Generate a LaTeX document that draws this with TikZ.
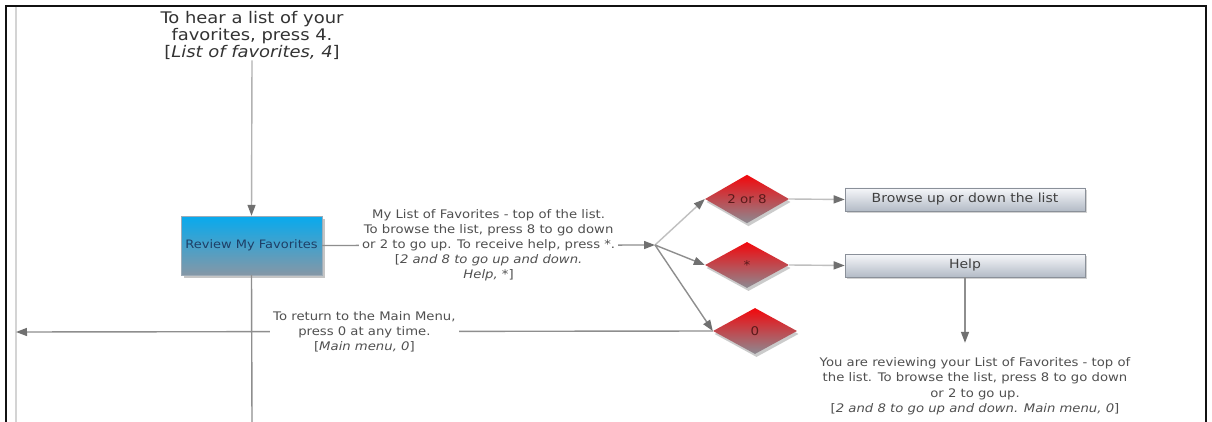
\documentclass[tikz,border=0pt]{standalone}
\usepackage{fontspec}
\setmainfont{DejaVu Sans}[FakeStretch=1.12]
\usetikzlibrary{shapes.geometric,arrows.meta,shadows}

\definecolor{frameline}{HTML}{111111}
\definecolor{railgray}{HTML}{D4D4D4}
\definecolor{conngray}{HTML}{8E8E8E}
\definecolor{tipgray}{HTML}{707070}
\definecolor{labelgray}{HTML}{505050}
\definecolor{boxtop}{HTML}{07AAEE}
\definecolor{boxbot}{HTML}{8597A6}
\definecolor{boxtext}{HTML}{1E3F66}
\definecolor{diatop}{HTML}{F2080C}
\definecolor{diabot}{HTML}{8C8A92}
\definecolor{diatext}{HTML}{5A1A1A}
\definecolor{acttop}{HTML}{F6F7FA}
\definecolor{actbot}{HTML}{B3BBC6}
\definecolor{actline}{HTML}{8A9099}

\tikzset{
  conn/.style={draw=conngray, line width=1.4pt,
    -{Triangle[length=11pt,width=8pt,fill=tipgray,color=tipgray]}},
  plainconn/.style={draw=conngray, line width=1.4pt},
  lbl/.style={fill=white, text=labelgray, font=\fontsize{11.8}{15}\selectfont,
    align=center, inner sep=3pt},
  note/.style={text=labelgray, font=\fontsize{11.8}{15.5}\selectfont,
    align=center, inner sep=2pt},
  prompt/.style={text=black!80, font=\fontsize{16}{17}\selectfont,
    align=center, inner sep=1pt},
  statebox/.style={rectangle, minimum width=141pt, minimum height=59pt,
    top color=boxtop, bottom color=boxbot, draw=boxbot!80,
    text=boxtext, font=\fontsize{11.6}{13}\selectfont,
    drop shadow={shadow xshift=3pt, shadow yshift=-3pt, fill=black!45}},
  choice/.style={diamond, inner sep=0pt, minimum width=84pt, minimum height=46pt,
    top color=diatop, bottom color=diabot, draw=none,
    text=diatext, font=\fontsize{12}{13}\selectfont,
    drop shadow={shadow xshift=1.5pt, shadow yshift=-3pt, fill=black!40}},
  action/.style={rectangle, minimum width=240pt, minimum height=23pt,
    top color=acttop, bottom color=actbot, draw=actline, line width=0.6pt,
    text=black!75, font=\fontsize{12.5}{14}\selectfont,
    drop shadow={shadow xshift=2pt, shadow yshift=-2pt, fill=black!35}}
}

\begin{document}
\begin{tikzpicture}[x=1pt, y=-1pt]
  \useasboundingbox (0,0) rectangle (1212,422);
  \fill[white] (0,0) rectangle (1212,422);

  % window frame and left rail
  \draw[frameline, line width=1.5pt] (6,422) -- (6,6) -- (1206,6) -- (1206,422);
  \draw[railgray, line width=2.5pt] (16,7) -- (16,422);

  % nodes
  \node[prompt] (hear) at (252,35)
    {To hear a list of your\\ favorites, press 4.\\ {[}\textit{List of favorites, 4}{]}};
  \node[statebox] (rev) at (251.5,245.5) {Review My Favorites};
  \coordinate (fork) at (655,245);
  \node[choice] (d28) at (747,199) {2 or 8};
  \node[choice] (dstar) at (747,265) {*};
  \node[choice] (dzero) at (755,331) {0};
  \node[action] (browse) at (965,199.5) {Browse up or down the list};
  \node[action] (help) at (965,265.5) {Help};
  \node[note] (review) at (975,386)
    {You are reviewing your List of Favorites - top of\\
     the list. To browse the list, press 8 to go down\\
     or 2 to go up.\\
     {[}\textit{2 and 8 to go up and down. Main menu, 0}{]}};
  \coordinate (railhit) at (16,332);
  \coordinate (downout) at (252,422);

  % connectors
  \draw[conn, draw=black!30] (hear.south) -- (rev.north);
  \draw[plainconn] (rev.south) -- (downout);
  \draw[conn] (rev.east) -- node[lbl]
    {My List of Favorites - top of the list.\\
     To browse the list, press 8 to go down\\
     or 2 to go up. To receive help, press *.\\
     {[}\textit{2 and 8 to go up and down.}\\
     \textit{Help, *}{]}} (fork);
  \draw[conn, draw=black!25] (fork) -- (d28.west);
  \draw[conn] (fork) -- (dstar.west);
  \draw[conn] (fork) -- (dzero.west);
  \draw[conn, draw=black!25] (d28.east) -- (browse.west);
  \draw[conn, draw=black!25] (dstar.east) -- (help.west);
  \draw[conn] (help.south) -- ([yshift=12pt]help.south |- review.north);
  \draw[conn] (dzero.west) -- node[lbl]
    {To return to the Main Menu,\\
     press 0 at any time.\\
     {[}\textit{Main menu, 0}{]}} (railhit);
\end{tikzpicture}
\end{document}
